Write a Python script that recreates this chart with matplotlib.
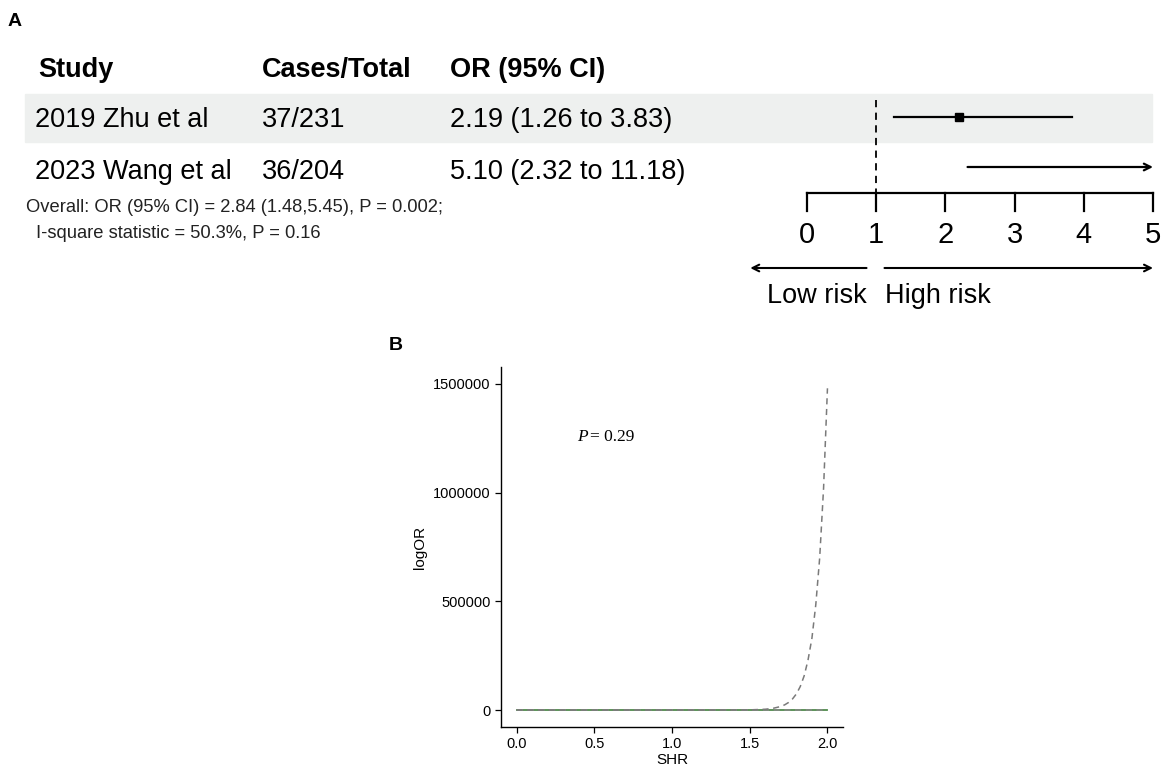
import matplotlib
matplotlib.use("Agg")
import matplotlib.pyplot as plt

plt.rcParams['font.family'] = ['Liberation Sans', 'DejaVu Sans']

# ---------------- data ----------------
headers = ["Study", "Cases/Total", "OR (95% CI)"]
studies = ["2019 Zhu et al", "2023 Wang et al"]
cases_total = ["37/231", "36/204"]
or_text = ["2.19 (1.26 to 3.83)", "5.10 (2.32 to 11.18)"]
or_est = [2.19, 5.10]
ci_low = [1.26, 2.32]
ci_high = [3.83, 11.18]
overall_line1 = "Overall: OR (95% CI) = 2.84 (1.48,5.45), P = 0.002;"
overall_line2 = "I-square statistic = 50.3%, P = 0.16"
forest_ticks = [0, 1, 2, 3, 4, 5]

shr = [0.0, 0.25, 0.5, 0.75, 1.0, 1.25, 1.5, 1.6, 1.65, 1.7, 1.725, 1.75,
       1.775, 1.8, 1.825, 1.85, 1.875, 1.9, 1.925, 1.95, 1.975, 2.0]
logor_est = [0] * len(shr)
logor_low = [0] * len(shr)
logor_high = [0, 0, 0, 0, 0, 0, 800, 3700, 7800, 16500, 24000, 35000,
              51000, 74000, 108000, 157000, 230000, 330000, 485000, 700000,
              1020000, 1480000]
b_xticks = [0.0, 0.5, 1.0, 1.5, 2.0]
b_yticks = [0, 500000, 1000000, 1500000]

W, H = 1170, 768
fig = plt.figure(figsize=(W / 100, H / 100), dpi=100)


def fx(px):
    return px / W


def fy(py):
    return 1 - py / H


# ---------------- Panel A ----------------
fig.text(fx(8), fy(22), "A", fontsize=14, fontweight="bold", va="center", ha="left")

# shading of row 1
shade = plt.Rectangle((fx(25), fy(142)), fx(1152) - fx(25), fy(94) - fy(142),
                      transform=fig.transFigure, color="#eef0ef", zorder=-5)
fig.patches.append(shade)

col_x = [38, 262, 450]
for x, h in zip(col_x, headers):
    fig.text(fx(x), fy(70), h, fontsize=19.5, fontweight="bold", va="center", ha="left")

row_y = [120, 172]
for i in range(len(studies)):
    fig.text(fx(35), fy(row_y[i]), studies[i], fontsize=19.5, va="center", ha="left")
    fig.text(fx(262), fy(row_y[i]), cases_total[i], fontsize=19.5, va="center", ha="left")
    fig.text(fx(450), fy(row_y[i]), or_text[i], fontsize=19.5, va="center", ha="left")

fig.text(fx(26), fy(207), overall_line1, fontsize=13.2, va="center", ha="left", color="#222222")
fig.text(fx(36), fy(233), overall_line2, fontsize=13.2, va="center", ha="left", color="#222222")

# forest axes: x in OR units, y in pixel rows
axf = fig.add_axes([fx(807), fy(310), fx(1153) - fx(807), fy(95) - fy(310)])
axf.set_zorder(5)
axf.set_xlim(0, 5)
axf.set_ylim(310, 95)
axf.axis("off")
axf.patch.set_alpha(0)

axis_y = 193
axf.plot([0, 5], [axis_y, axis_y], color="black", lw=1.6, clip_on=False)
for t in forest_ticks:
    axf.plot([t, t], [axis_y, axis_y + 18], color="black", lw=1.6, clip_on=False)
    axf.text(t, 235, str(t), fontsize=21, ha="center", va="center")

axf.plot([1, 1], [100, axis_y], color="black", lw=1.3, ls=(0, (4, 3)))

row_pts = [117, 167]
xmax = 5
for i in range(len(or_est)):
    hi = min(ci_high[i], xmax)
    if ci_high[i] > xmax:
        axf.annotate("", xy=(xmax, row_pts[i]), xytext=(ci_low[i], row_pts[i]),
                     arrowprops=dict(arrowstyle="->", lw=1.6, color="black",
                                     shrinkA=0, shrinkB=0, mutation_scale=12))
    else:
        axf.plot([ci_low[i], hi], [row_pts[i], row_pts[i]], color="black", lw=1.6)
    if or_est[i] < xmax:
        axf.plot(or_est[i], row_pts[i], marker="s", ms=6, color="black")

# risk arrows
axf.annotate("", xy=(-0.82, 268), xytext=(0.86, 268),
             arrowprops=dict(arrowstyle="->", lw=1.5, color="black",
                             shrinkA=0, shrinkB=0, mutation_scale=12), annotation_clip=False)
axf.annotate("", xy=(5.0, 268), xytext=(1.12, 268),
             arrowprops=dict(arrowstyle="->", lw=1.5, color="black",
                             shrinkA=0, shrinkB=0, mutation_scale=12), annotation_clip=False)
axf.text(0.86, 296, "Low risk", fontsize=19.5, ha="right", va="center")
axf.text(1.12, 296, "High risk", fontsize=19.5, ha="left", va="center")

# ---------------- Panel B ----------------
fig.text(fx(389), fy(345), "B", fontsize=14, fontweight="bold", va="center", ha="left")

axb = fig.add_axes([fx(501), fy(727), fx(843) - fx(501), fy(367) - fy(727)])
axb.plot(shr, logor_est, color="#4f8a4c", lw=1.3, zorder=2)
axb.plot(shr, logor_low, color="#888888", lw=1.1, ls=(0, (4, 3)), zorder=3)
axb.plot(shr, logor_high, color="#7a7a7a", lw=1.1, ls=(0, (4, 3)), zorder=3)
axb.set_xlim(-0.1, 2.1)
axb.set_ylim(-78000, 1578000)
axb.set_xticks(b_xticks)
axb.set_xticklabels([f"{v:.1f}" for v in b_xticks])
axb.set_yticks(b_yticks)
axb.set_yticklabels([str(v) for v in b_yticks])
for s in ["top", "right"]:
    axb.spines[s].set_visible(False)
for s in ["left", "bottom"]:
    axb.spines[s].set_linewidth(1.0)
axb.tick_params(axis="both", labelsize=10.5, length=4, width=0.9, colors="black")
axb.set_xlabel("SHR", fontsize=11, labelpad=1)
axb.set_ylabel("logOR", fontsize=11, labelpad=4)
axb.text(0.39, 1256000, "P", fontsize=12.5, family="Liberation Serif", style="italic",
         ha="left", va="center")
axb.text(0.47, 1256000, "= 0.29", fontsize=12.5, family="Liberation Serif",
         ha="left", va="center")

fig.savefig("out.png", dpi=100)
